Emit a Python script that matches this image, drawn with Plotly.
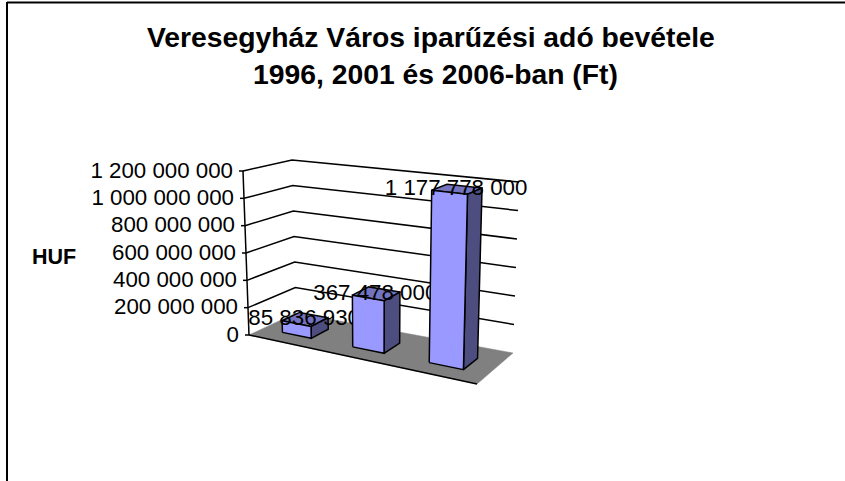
import plotly.graph_objects as go

categories = ["1996", "2001", "2006"]
values = [85836930, 367478000, 1177778000]
value_labels = ["85 836 930", "367 478 000", "1 177 778 000"]
tick_values = [0, 200000000, 400000000, 600000000, 800000000, 1000000000, 1200000000]
tick_labels = ["0", "200 000 000", "400 000 000", "600 000 000", "800 000 000", "1 000 000 000", "1 200 000 000"]
title_lines = ["Veresegyház Város iparűzési adó bevétele", "1996, 2001 és 2006-ban (Ft)"]
axis_title = "HUF"

V_MAX = 1200000000
FRONT_DEPTH, BACK_DEPTH = 0.3, 0.68
LABEL_DEPTH = 0.47
BAR_HALF = 0.07
PERSP = 1.137
# pixel positions of the eight corners of the 3D box: (category, depth, value)
C = {
    (0, 0, 0): (249, 335), (1, 0, 0): (477, 384), (0, 1, 0): (296, 313), (1, 1, 0): (513, 353),
    (0, 0, 1): (243, 171), (1, 0, 1): (482, 199), (0, 1, 1): (292, 160), (1, 1, 1): (519, 182),
}
LINE_W = 1.5


def warp(t):
    return t / (t + (1 - t) * PERSP)


def proj(t, d, v):
    t = warp(t)
    v = v / V_MAX
    x = y = 0.0
    for i in (0, 1):
        for j in (0, 1):
            for k in (0, 1):
                w = (t if i else 1 - t) * (d if j else 1 - d) * (v if k else 1 - v)
                x += w * C[(i, j, k)][0]
                y += w * C[(i, j, k)][1]
    return x, y


def poly(pts):
    xy = [proj(*p) for p in pts]
    return [a for a, _ in xy], [b for _, b in xy]


fig = go.Figure()


def line_trace(pts, width=LINE_W):
    xs, ys = poly(pts)
    fig.add_trace(go.Scatter(x=xs, y=ys, mode="lines", line=dict(color="#000000", width=width), showlegend=False, hoverinfo="skip"))


def face(pts, color, name):
    xs, ys = poly(pts + pts[:1])
    fig.add_trace(go.Scatter(x=xs, y=ys, mode="lines", fill="toself", fillcolor=color, name=name,
                             line=dict(color="#000000", width=LINE_W), showlegend=False, hoverinfo="skip"))


# walls' gridlines
for v in tick_values[1:]:
    line_trace([(0, 0, v), (0, 1, v), (1, 1, v)])

# floor
xs, ys = poly([(0, 0, 0), (1, 0, 0), (1, 1, 0), (0, 1, 0), (0, 0, 0)])
fig.add_trace(go.Scatter(x=xs, y=ys, mode="lines", fill="toself", fillcolor="#808080",
                         line=dict(color="#808080", width=0.5), showlegend=False, hoverinfo="skip"))
line_trace([(0, 0, 0), (1, 0, 0)])

# value axis
line_trace([(0, 0, 0), (0, 0, V_MAX)])
for v, lab in zip(tick_values, tick_labels):
    x, y = proj(0, 0, v)
    fig.add_trace(go.Scatter(x=[x - 4, x], y=[y, y], mode="lines", line=dict(color="#000000", width=LINE_W), showlegend=False, hoverinfo="skip"))
    fig.add_trace(go.Scatter(x=[x - 10], y=[y + 1], mode="text", text=[lab], textposition="middle left",
                             textfont=dict(family="Liberation Sans", size=22.3, color="#000000"), showlegend=False, hoverinfo="skip"))

# bars, each followed by its label so later bars cover earlier labels
n = len(categories)
for i, (cat, val, lab) in enumerate(zip(categories, values, value_labels)):
    c = (i + 0.5) / n
    l, r = c - BAR_HALF, c + BAR_HALF
    f, b = FRONT_DEPTH, BACK_DEPTH
    face([(l, f, val), (r, f, val), (r, b, val), (l, b, val)], "#7373BF", cat)
    face([(r, f, 0), (r, b, 0), (r, b, val), (r, f, val)], "#4D4D80", cat)
    face([(l, f, 0), (r, f, 0), (r, f, val), (l, f, val)], "#9999FF", cat)
    x, y = proj(c, LABEL_DEPTH, val)
    fig.add_trace(go.Scatter(x=[x], y=[y], mode="text", text=[lab], textposition="middle center",
                             textfont=dict(family="Liberation Sans", size=22.3, color="#000000"), showlegend=False, hoverinfo="skip"))

anns = [
    dict(x=430.5, y=37, text=title_lines[0], font=dict(size=28.3)),
    dict(x=435.5, y=74, text=title_lines[1], font=dict(size=28.3)),
    dict(x=54, y=256.5, text=axis_title, font=dict(size=21.5)),
]
for a in anns:
    a.update(xref="x", yref="y", showarrow=False, xanchor="center", yanchor="middle")
    a["font"] = dict(family="Liberation Sans", color="#000000", size=a["font"]["size"])
    a["text"] = "<b>" + a["text"] + "</b>"

fig.update_layout(
    width=845, height=481, autosize=False, margin=dict(l=0, r=0, t=0, b=0),
    paper_bgcolor="#FFFFFF", plot_bgcolor="#FFFFFF", showlegend=False, annotations=anns,
    xaxis=dict(range=[0, 845], visible=False, fixedrange=True),
    yaxis=dict(range=[481, 0], visible=False, fixedrange=True),
    shapes=[
        dict(type="line", x0=7, x1=845, y0=2.5, y1=2.5, line=dict(color="#000000", width=2)),
        dict(type="line", x0=7, x1=7, y0=2, y1=481, line=dict(color="#000000", width=2)),
    ],
)
fig.write_html("out.html", config=dict(displayModeBar=False),
               post_script="document.body.style.margin='0';document.documentElement.style.overflow='hidden';")
